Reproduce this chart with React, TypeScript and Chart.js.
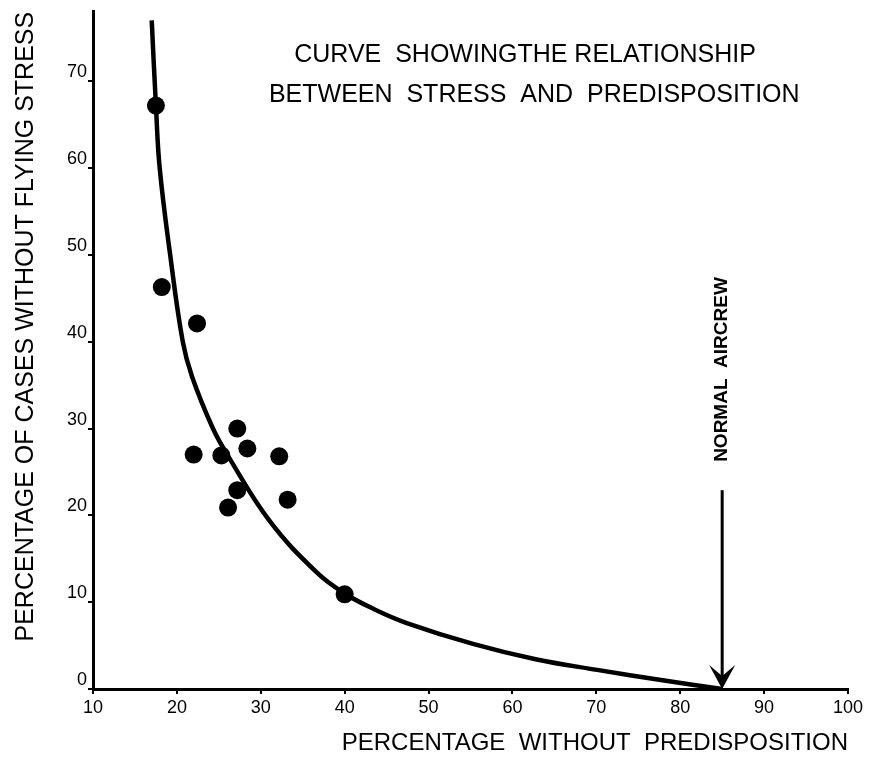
import React, { useEffect, useRef } from "react";
import { Chart, registerables } from "chart.js";

Chart.register(...registerables);

// Scatter observations (percentage without predisposition, percentage of cases without flying stress)
const obsX = [17.5, 18.2, 22.4, 22.0, 25.3, 27.2, 28.4, 32.2, 27.2, 26.1, 33.2, 40.0];
const obsY = [67.2, 46.3, 42.1, 27.0, 26.9, 30.0, 27.7, 26.8, 22.9, 20.9, 21.8, 10.9];

// Hand-drawn fitted curve
const curveX = [17.0, 17.5, 17.95, 19.2, 20.7, 21.8, 24.3, 26.0, 31.1, 36.7, 40.0, 43.5, 47.4, 55.3, 62.9, 70.1, 77.9, 85.0];
const curveY = [77.0, 67.2, 60.0, 50.0, 40.0, 36.0, 30.0, 27.0, 19.3, 13.4, 11.0, 9.2, 7.6, 5.2, 3.4, 2.2, 1.0, 0.0];

// Axis ranges / ticks
const X_MIN = 10;
const X_MAX = 100;
const X_STEP = 10;
const Y_MIN = 0;
const Y_MAX = 78;
const Y_STEP = 10;
const Y_LAST_TICK = 70;

// Annotations
const TITLE_LINES = ["CURVE  SHOWINGTHE RELATIONSHIP", "BETWEEN  STRESS  AND  PREDISPOSITION"];
const TITLE_X = [61.5, 62.6];
const TITLE_Y = [73.0, 68.4];
const ARROW_LABEL = "NORMAL  AIRCREW";
const ARROW_X = 85;
const ARROW_TOP = 22.9;
const ARROW_LABEL_Y = 36.8;

const X_TITLE = "PERCENTAGE  WITHOUT  PREDISPOSITION";
const Y_TITLE = "PERCENTAGE OF CASES WITHOUT FLYING STRESS";

const FONT = '"Liberation Sans", Arial, sans-serif';

const annotationPlugin = {
  id: "annotations",
  afterDraw(chart: any) {
    const { ctx } = chart;
    const x = chart.scales.x;
    const y = chart.scales.y;
    ctx.save();
    ctx.fillStyle = "#000";
    ctx.strokeStyle = "#000";
    ctx.font = `25px ${FONT}`;
    ctx.textAlign = "center";
    ctx.textBaseline = "middle";
    TITLE_LINES.forEach((t, i) => {
      ctx.fillText(t, x.getPixelForValue(TITLE_X[i]), y.getPixelForValue(TITLE_Y[i]));
    });

    // arrow
    const ax = x.getPixelForValue(ARROW_X);
    const top = y.getPixelForValue(ARROW_TOP);
    const bot = y.getPixelForValue(0);
    ctx.lineWidth = 3;
    ctx.beginPath();
    ctx.moveTo(ax, top);
    ctx.lineTo(ax, bot - 6);
    ctx.stroke();
    ctx.beginPath();
    ctx.moveTo(ax, bot);
    ctx.lineTo(ax - 13, bot - 24);
    ctx.lineTo(ax, bot - 13);
    ctx.lineTo(ax + 13, bot - 24);
    ctx.closePath();
    ctx.fill();

    // arrow label
    ctx.translate(ax, y.getPixelForValue(ARROW_LABEL_Y));
    ctx.rotate(-Math.PI / 2);
    ctx.font = `bold 19px ${FONT}`;
    ctx.fillText(ARROW_LABEL, 0, 0);
    ctx.restore();
  },
};

export default function App() {
  const ref = useRef<HTMLCanvasElement | null>(null);

  useEffect(() => {
    if (!ref.current) return;
    const points = obsX.map((v, i) => ({ x: v, y: obsY[i] }));
    const curve = curveX.map((v, i) => ({ x: v, y: curveY[i] }));
    const chart = new Chart(ref.current, {
      type: "scatter",
      data: {
        datasets: [
          {
            label: "Observations",
            data: points,
            pointRadius: 9,
            pointHoverRadius: 9,
            pointBackgroundColor: "#000",
            pointBorderColor: "#000",
            pointBorderWidth: 0,
            showLine: false,
            order: 0,
          },
          {
            label: "Curve",
            data: curve,
            showLine: true,
            pointRadius: 0,
            borderColor: "#000",
            borderWidth: 4.5,
            tension: 0.4,
            fill: false,
            order: 1,
          } as any,
        ],
      },
      options: {
        responsive: false,
        animation: false,
        layout: { padding: { left: 0, top: 5, right: 27, bottom: 0 } },
        plugins: { legend: { display: false }, tooltip: { enabled: false } },
        scales: {
          x: {
            type: "linear",
            min: X_MIN,
            max: X_MAX,
            ticks: {
              stepSize: X_STEP,
              color: "#000",
              font: { family: FONT, size: 18 },
              padding: 3,
              maxRotation: 0,
            },
            grid: { display: true, drawOnChartArea: false, drawTicks: true, tickLength: 5, color: "#000", lineWidth: 2 },
            border: { display: true, color: "#000", width: 3 },
            title: {
              display: true,
              text: X_TITLE,
              align: "end",
              color: "#000",
              font: { family: FONT, size: 24 },
              padding: { top: 0, bottom: 1 },
            },
            afterFit(scale: any) {
              scale.height = 70;
            },
          },
          y: {
            type: "linear",
            min: Y_MIN,
            max: Y_MAX,
            ticks: {
              stepSize: Y_STEP,
              color: "#000",
              font: { family: FONT, size: 18 },
              padding: 1,
              labelOffset: -9,
            },
            afterBuildTicks(scale: any) {
              scale.ticks = scale.ticks.filter((t: any) => t.value % Y_STEP === 0 && t.value <= Y_LAST_TICK);
            },
            grid: { display: true, drawOnChartArea: false, drawTicks: true, tickLength: 5, color: "#000", lineWidth: 2 },
            border: { display: true, color: "#000", width: 3 },
            title: {
              display: true,
              text: Y_TITLE,
              align: "end",
              color: "#000",
              font: { family: FONT, size: 25 },
              padding: { top: 11, bottom: 0 },
            },
            afterFit(scale: any) {
              scale.width = 93;
            },
          },
        },
      },
      plugins: [annotationPlugin],
    });
    return () => chart.destroy();
  }, []);

  return (
    <div style={{ position: "absolute", left: 0, top: 0, width: 875, height: 759, background: "#fff" }}>
      <canvas ref={ref} width={875} height={759} style={{ width: 875, height: 759, display: "block" }} />
    </div>
  );
}
